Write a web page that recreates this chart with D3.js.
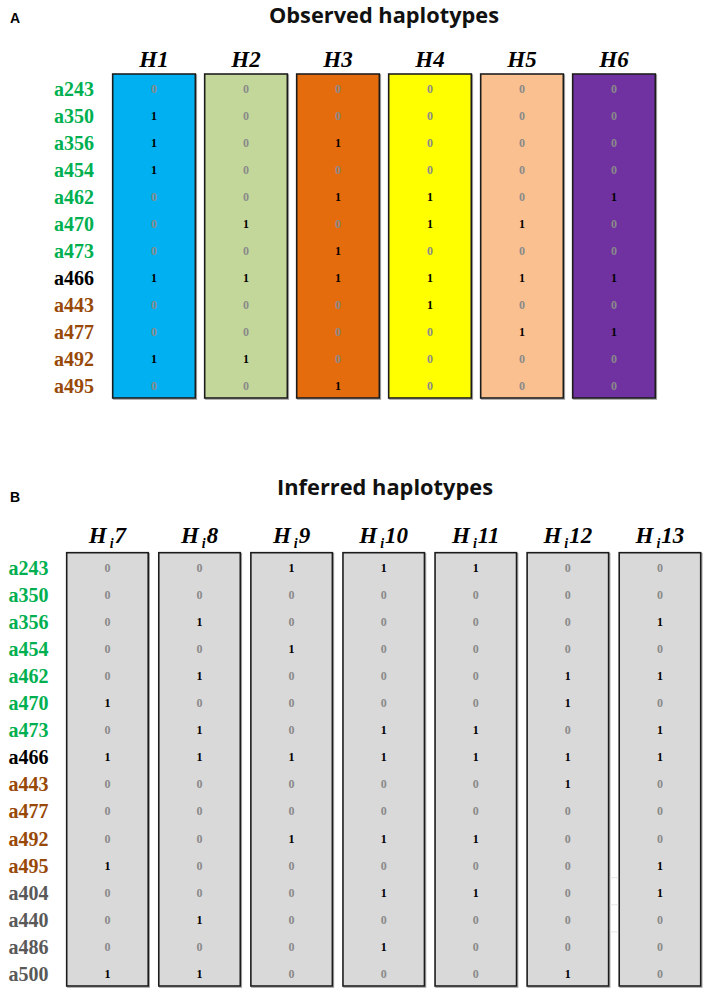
<!DOCTYPE html>
<html>
<head>
<meta charset="utf-8">
<script src="https://cdn.jsdelivr.net/npm/d3@7"></script>
<style>
html,body{margin:0;padding:0;background:#fff;}
svg{display:block;}
</style>
</head>
<body>
<svg id="chart" width="708" height="993"></svg>
<script>
// ---------- DATA ----------
const rowsA = ["a243","a350","a356","a454","a462","a470","a473","a466","a443","a477","a492","a495"];
const rowGroupA = ["g","g","g","g","g","g","g","k","b","b","b","b"];
const colsA = ["H1","H2","H3","H4","H5","H6"];
const colFillA = ["#00B0F0","#C4D79B","#E46C0A","#FFFF00","#FAC090","#7030A0"];
const H1 = [0,1,1,1,0,0,0,1,0,0,1,0];
const H2 = [0,0,0,0,0,1,0,1,0,0,1,0];
const H3 = [0,0,1,0,1,0,1,1,0,0,0,1];
const H4 = [0,0,0,0,1,1,0,1,1,0,0,0];
const H5 = [0,0,0,0,0,1,0,1,0,1,0,0];
const H6 = [0,0,0,0,1,0,0,1,0,1,0,0];

const rowsB = ["a243","a350","a356","a454","a462","a470","a473","a466","a443","a477","a492","a495","a404","a440","a486","a500"];
const rowGroupB = ["g","g","g","g","g","g","g","k","b","b","b","b","y","y","y","y"];
const colsB = ["7","8","9","10","11","12","13"];
const Hi7  = [0,0,0,0,0,1,0,1,0,0,0,1,0,0,0,1];
const Hi8  = [0,0,1,0,1,0,1,1,0,0,0,0,0,1,0,1];
const Hi9  = [1,0,0,1,0,0,0,1,0,0,1,0,0,0,0,0];
const Hi10 = [1,0,0,0,0,0,1,1,0,0,1,0,1,0,1,0];
const Hi11 = [1,0,0,0,0,0,1,1,0,0,1,0,1,0,0,0];
const Hi12 = [0,0,0,0,1,1,0,1,1,0,0,0,0,0,0,1];
const Hi13 = [0,0,1,0,1,0,1,1,0,0,0,1,1,0,0,0];

const titleA = "Observed haplotypes";
const titleB = "Inferred haplotypes";

// ---------- STYLE ----------
const groupColor = {g:"#00B050", k:"#000000", b:"#984807", y:"#595959"};
const serif = "'Liberation Serif','Times New Roman',serif";
const sans = "'Open Sans','Liberation Sans',Arial,sans-serif";

const svg = d3.select("#chart");

const defs = svg.append("defs");
const f = defs.append("filter").attr("id","sh").attr("x","-5%").attr("y","-5%").attr("width","115%").attr("height","115%");
f.append("feDropShadow").attr("dx",1).attr("dy",1).attr("stdDeviation",0.6).attr("flood-color","#777").attr("flood-opacity",0.7);

function panel(opt){
  const g = svg.append("g");
  const x = d3.scaleBand().domain(opt.cols).range(opt.xr).paddingInner(opt.pad).paddingOuter(0);
  const y = d3.scaleBand().domain(opt.rows).range(opt.yr).padding(0);

  // panel letter
  g.append("text").attr("x",opt.letterX).attr("y",opt.letterY)
    .attr("font-family","'Liberation Sans',Arial,sans-serif").attr("font-weight","bold")
    .attr("font-size",14).attr("fill","#000").text(opt.letter);
  // title
  g.append("text").attr("x",opt.titleX).attr("y",opt.titleY).attr("text-anchor","middle")
    .attr("font-family",sans).attr("font-weight","bold").attr("font-size",22)
    .attr("textLength",opt.titleW).attr("lengthAdjust","spacingAndGlyphs")
    .attr("fill","#111").text(opt.title);

  // boxes
  g.selectAll("rect.box").data(opt.cols).join("rect").attr("class","box")
    .attr("x",d=>x(d)).attr("y",opt.yr[0])
    .attr("width",x.bandwidth()).attr("height",opt.yr[1]-opt.yr[0])
    .attr("fill",(d,i)=>opt.fill(i)).attr("stroke","#1e1e1e").attr("stroke-width",1.6)
    .attr("filter","url(#sh)");

  // column headers
  const hdr = g.selectAll("text.hdr").data(opt.cols).join("text").attr("class","hdr")
    .attr("x",d=>x(d)+x.bandwidth()/2).attr("y",opt.hdrY).attr("text-anchor","middle")
    .attr("font-family",serif).attr("font-weight","bold").attr("font-style","italic")
    .attr("font-size",23).attr("fill","#000");
  opt.header(hdr);

  // row labels
  g.selectAll("text.rl").data(opt.rows).join("text").attr("class","rl")
    .attr("x",opt.labelX).attr("y",d=>y(d)+y.bandwidth()/2+1.5)
    .attr("dominant-baseline","central").attr("text-anchor","end")
    .attr("font-family",serif).attr("font-weight","bold").attr("font-size",20)
    .attr("fill",(d,i)=>groupColor[opt.groups[i]]).text(d=>d);

  // cells
  opt.cols.forEach((c,ci)=>{
    const vals = opt.values[ci];
    g.selectAll("text.c"+ci).data(vals).join("text").attr("class","c"+ci)
      .attr("x",x(c)+x.bandwidth()/2).attr("y",(v,ri)=>y(opt.rows[ri])+y.bandwidth()/2+1.5)
      .attr("dominant-baseline","central").attr("text-anchor","middle")
      .attr("font-family",serif).attr("font-weight","bold").attr("font-size",12)
      .attr("fill",v=>v===1?"#000":"#8a8a8a").text(v=>v);
  });
  return {x,y,g};
}

panel({
  letter:"A", letterX:10, letterY:23,
  title:titleA, titleX:384, titleY:23, titleW:230,
  cols:colsA, rows:rowsA, groups:rowGroupA,
  values:[H1,H2,H3,H4,H5,H6],
  fill:i=>colFillA[i],
  xr:[112.7,655.3], pad:0.102, yr:[74,398],
  hdrY:66.7, labelX:94,
  header:sel=>sel.text(d=>d)
});

const pB = panel({
  letter:"B", letterX:10, letterY:502,
  title:titleB, titleX:385, titleY:495, titleW:216,
  cols:colsB, rows:rowsB, groups:rowGroupB,
  values:[Hi7,Hi8,Hi9,Hi10,Hi11,Hi12,Hi13],
  fill:()=>"#D9D9D9",
  xr:[66.7,700.7], pad:0.115, yr:[552.7,986],
  hdrY:543.3, labelX:48.5,
  header:sel=>{
    sel.append("tspan").text("H");
    sel.append("tspan").attr("font-size",14).attr("dx",3).attr("dy",5).text("i");
    sel.append("tspan").attr("dy",-5).attr("dx",1).text(d=>d);
  }
});

// faint artifact lines in gap between last two columns
const gx0 = pB.x(colsB[5]) + pB.x.bandwidth() + 1.5;
const gx1 = pB.x(colsB[6]) - 1;
pB.g.selectAll("line.art").data(["a404","a440","a486"]).join("line").attr("class","art")
  .attr("x1",gx0).attr("x2",gx1)
  .attr("y1",d=>pB.y(d)).attr("y2",d=>pB.y(d))
  .attr("stroke","#e6e6e6").attr("stroke-width",1);
</script>
</body>
</html>
